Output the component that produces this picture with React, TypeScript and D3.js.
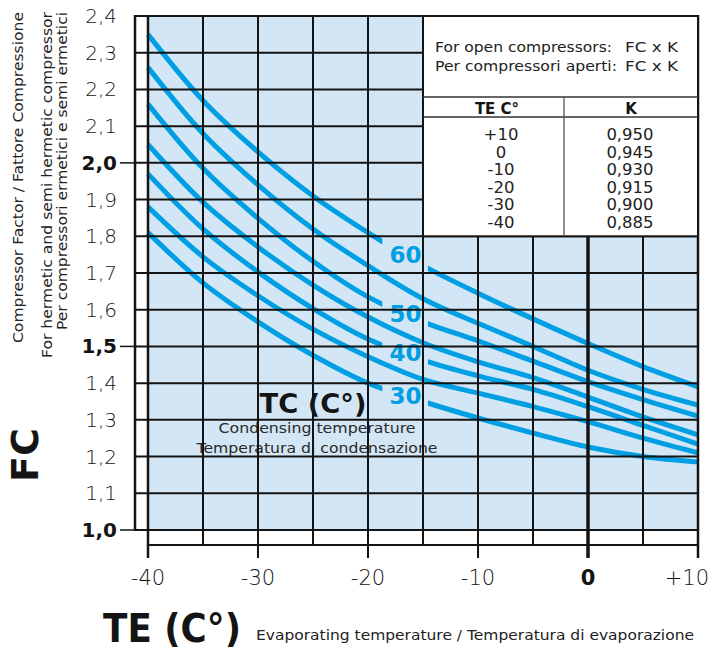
import * as d3 from "d3";

// evaporating temperature grid (every 5°) and axis ticks
const TE_GRID = [-40, -35, -30, -25, -20, -15, -10, -5, 0, 5, 10];
const TE_TICKS = [-40, -30, -20, -10, 0, 10];
const TE_TICK_LABELS = ["-40", "-30", "-20", "-10", "0", "+10"];

const FC_TICKS = [1.0, 1.1, 1.2, 1.3, 1.4, 1.5, 1.6, 1.7, 1.8, 1.9, 2.0, 2.1, 2.2, 2.3, 2.4];
const FC_TICK_LABELS = ["1,0", "1,1", "1,2", "1,3", "1,4", "1,5", "1,6", "1,7", "1,8", "1,9", "2,0", "2,1", "2,2", "2,3", "2,4"];
const FC_BOLD = [1.0, 1.5, 2.0];

// compressor factor per condensing temperature, read at TE_GRID points
const TC_LEVELS = [60, 55, 50, 45, 40, 35, 30];
const FC_TC60 = [2.35, 2.17, 2.03, 1.91, 1.81, 1.72, 1.645, 1.575, 1.508, 1.445, 1.39];
const FC_TC55 = [2.26, 2.08, 1.94, 1.82, 1.72, 1.63, 1.563, 1.5, 1.435, 1.383, 1.34];
const FC_TC50 = [2.16, 1.985, 1.849, 1.732, 1.635, 1.567, 1.515, 1.46, 1.404, 1.355, 1.31];
const FC_TC45 = [2.05, 1.893, 1.771, 1.667, 1.58, 1.51, 1.458, 1.415, 1.362, 1.308, 1.259];
const FC_TC40 = [1.97, 1.82, 1.703, 1.603, 1.52, 1.463, 1.42, 1.383, 1.336, 1.285, 1.234];
const FC_TC35 = [1.88, 1.744, 1.638, 1.547, 1.472, 1.41, 1.373, 1.336, 1.295, 1.25, 1.21];
const FC_TC30 = [1.81, 1.673, 1.567, 1.476, 1.4, 1.35, 1.305, 1.264, 1.226, 1.2, 1.185];
const SERIES = [FC_TC60, FC_TC55, FC_TC50, FC_TC45, FC_TC40, FC_TC35, FC_TC30];
const LABELED = [60, 50, 40, 30];
const LABEL_TE = -16.6;

// open compressors correction table
const TABLE_TE = ["+10", "0", "-10", "-20", "-30", "-40"];
const TABLE_K = ["0,950", "0,945", "0,930", "0,915", "0,900", "0,885"];

const W = 710, H = 651;
const BLUE = "#009fe3";
const FILL = "#d2e6f5";
const INK = "#141414";
const FONT = "'DejaVu Sans', Inter, sans-serif";

export default function App() {
  const x = d3.scaleLinear().domain([-40, 10]).range([148, 698]);
  const y = d3.scaleLinear().domain([1.0, 2.4]).range([530, 16]);

  const line = d3.line<number>()
    .x((_, i) => x(TE_GRID[i]))
    .y(d => y(d))
    .curve(d3.curveCatmullRom.alpha(0.5));

  const left = 135, bot1 = 545, bot2 = 558;
  const tabL = x(-15), tabR = x(10), tabT = y(2.4), tabB = y(1.8);
  const colX = 564;
  const sepY = 97, headY = 117;

  const interp = (vals: number[], te: number) => {
    const i = Math.max(0, d3.bisectRight(TE_GRID, te) - 1);
    const t = (te - TE_GRID[i]) / (TE_GRID[i + 1] - TE_GRID[i]);
    return vals[i] + t * (vals[i + 1] - vals[i]);
  };

  return (
    <svg width={W} height={H} style={{ position: "absolute", left: 0, top: 0, background: "#fff" }} fontFamily={FONT}>
      <defs>
        {TC_LEVELS.map((tc, si) => {
          if (!LABELED.includes(tc)) return null;
          const ly = y(interp(SERIES[si], LABEL_TE));
          return (
            <mask id={`gap-${tc}`} key={tc} maskUnits="userSpaceOnUse" x={0} y={0} width={W} height={H}>
              <rect x={0} y={0} width={W} height={H} fill="#fff" />
              <rect x={x(-18.7)} y={ly - 22} width={x(-14.55) - x(-18.7)} height={44} fill="#000" />
            </mask>
          );
        })}
      </defs>

      {/* plot background */}
      <rect x={x(-40)} y={y(2.4)} width={x(10) - x(-40)} height={y(1.0) - y(2.4)} fill={FILL} />

      {/* curves */}
      {SERIES.map((vals, si) => (
        <path key={TC_LEVELS[si]} d={line(vals) ?? ""} fill="none" stroke={BLUE} strokeWidth={5}
          mask={LABELED.includes(TC_LEVELS[si]) ? `url(#gap-${TC_LEVELS[si]})` : undefined} />
      ))}

      {/* curve labels */}
      {TC_LEVELS.map((tc, si) => LABELED.includes(tc) ? (
        <text key={tc} x={x(LABEL_TE)} y={y(interp(SERIES[si], LABEL_TE))} fill={BLUE} fontSize={23} fontWeight={700}
          textAnchor="middle" dominantBaseline="central">{tc}</text>
      ) : null)}

      {/* TC caption */}
      <text x={313} y={413} fontSize={27} fontWeight={700} fill={INK} textAnchor="middle" textLength={107} lengthAdjust="spacingAndGlyphs">TC (C°)</text>
      <text x={317} y={433} fontSize={14} fill="#2a2a2a" textAnchor="middle" textLength={197} lengthAdjust="spacingAndGlyphs">Condensing temperature</text>
      <text x={317} y={453} fontSize={14} fill="#2a2a2a" textAnchor="middle" textLength={241} lengthAdjust="spacingAndGlyphs">Temperatura di condensazione</text>

      {/* horizontal grid */}
      {FC_TICKS.map(v => (
        <line key={v} x1={left} x2={x(10)} y1={y(v)} y2={y(v)} stroke={INK} strokeWidth={2} />
      ))}
      {FC_BOLD.map(v => (
        <line key={v} x1={120} x2={left} y1={y(v)} y2={y(v)} stroke={INK} strokeWidth={1.5} />
      ))}
      {/* vertical grid */}
      <line x1={left} x2={left} y1={y(2.4) - 1} y2={y(1.0) + 1} stroke={INK} strokeWidth={2.5} />
      {TE_GRID.map(t => (
        <line key={t} x1={x(t)} x2={x(t)} y1={y(2.4) - 1} y2={TE_TICKS.includes(t) ? bot2 : bot1}
          stroke={INK} strokeWidth={t === 0 ? 3.5 : t === -40 || t === 10 ? 2.5 : 2} />
      ))}
      <line x1={x(-40)} x2={x(10)} y1={bot1} y2={bot1} stroke={INK} strokeWidth={2} />

      {/* table */}
      <rect x={tabL} y={tabT} width={tabR - tabL} height={tabB - tabT} fill="#fff" stroke={INK} strokeWidth={2} />
      <line x1={tabL} x2={tabR} y1={sepY} y2={sepY} stroke="#333" strokeWidth={1.3} />
      <line x1={tabL} x2={tabR} y1={headY} y2={headY} stroke="#333" strokeWidth={1.3} />
      <line x1={colX} x2={colX} y1={sepY} y2={tabB} stroke="#555" strokeWidth={1.3} />
      <g fontSize={14} fill="#222">
        <text x={435} y={52} textLength={177} lengthAdjust="spacingAndGlyphs">For open compressors:</text>
        <text x={435} y={71} textLength={182} lengthAdjust="spacingAndGlyphs">Per compressori aperti:</text>
        <text x={625} y={52} textLength={53} lengthAdjust="spacingAndGlyphs">FC x K</text>
        <text x={625} y={71} textLength={53} lengthAdjust="spacingAndGlyphs">FC x K</text>
      </g>
      <text x={497} y={114} fontSize={15} fontWeight={700} fill={INK} textAnchor="middle">TE C°</text>
      <text x={631} y={114} fontSize={15} fontWeight={700} fill={INK} textAnchor="middle">K</text>
      {TABLE_TE.map((t, i) => (
        <g key={t} fontSize={16.5} fill="#222" textAnchor="middle">
          <text x={501} y={140 + i * 17.5}>{t}</text>
          <text x={630} y={140 + i * 17.5}>{TABLE_K[i]}</text>
        </g>
      ))}

      {/* y tick labels */}
      {FC_TICKS.map((v, i) => (
        <text key={v} x={117} y={y(v)} dominantBaseline="central" textAnchor="end" fontSize={20}
          fontWeight={FC_BOLD.includes(v) ? 900 : 300} fill={INK}>{FC_TICK_LABELS[i]}</text>
      ))}
      {/* x tick labels */}
      {TE_TICKS.map((t, i) => (
        <text key={t} x={t === 10 ? 709 : x(t)} y={585} textAnchor={t === 10 ? "end" : "middle"} fontSize={21}
          fontWeight={t === 0 ? 900 : 300} fill={INK}>{TE_TICK_LABELS[i]}</text>
      ))}

      {/* axis titles */}
      <text x={103} y={642} fontSize={39} fontWeight={900} fill={INK} textLength={138} lengthAdjust="spacingAndGlyphs">TE (C°)</text>
      <text x={256} y={640} fontSize={14} fill="#222" textLength={438} lengthAdjust="spacingAndGlyphs">Evaporating temperature / Temperatura di evaporazione</text>
      <text transform="translate(38,455) rotate(-90)" textAnchor="middle" fontSize={38} fontWeight={900} fill={INK}>FC</text>
      <text transform="translate(23,343) rotate(-90)" fontSize={13.5} fill="#222" textLength={331} lengthAdjust="spacingAndGlyphs">Compressor Factor / Fattore Compressione</text>
      <text transform="translate(52,358) rotate(-90)" fontSize={13.5} fill="#222" textLength={346} lengthAdjust="spacingAndGlyphs">For hermetic and semi hermetic compressor</text>
      <text transform="translate(67,330) rotate(-90)" fontSize={13.5} fill="#222" textLength={318} lengthAdjust="spacingAndGlyphs">Per compressori ermetici e semi ermetici</text>
    </svg>
  );
}
